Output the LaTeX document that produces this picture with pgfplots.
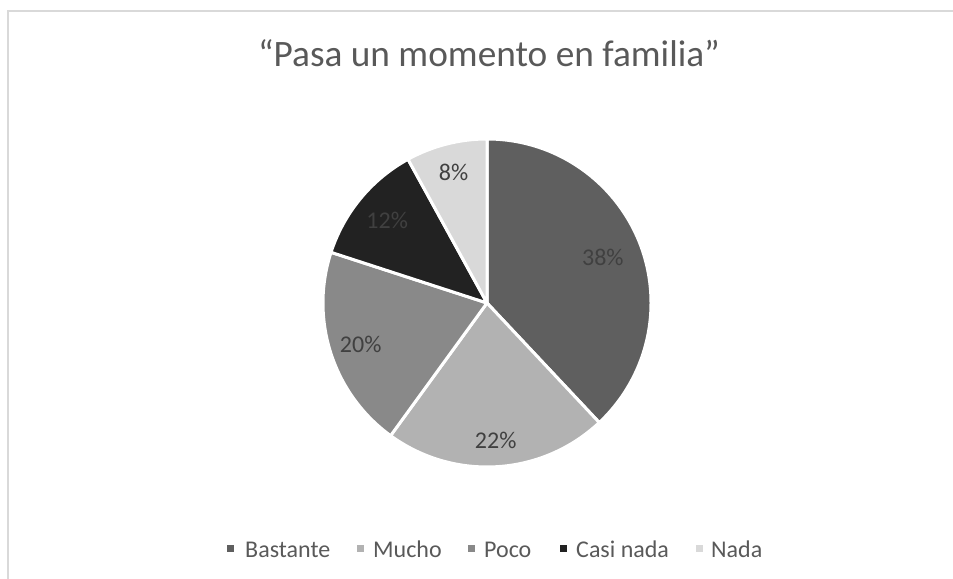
\documentclass[border=0pt]{standalone}
\usepackage{pgfplots}
\pgfplotsset{compat=1.18}
\usepackage{fontspec}
\setmainfont{Carlito}
\definecolor{cA}{HTML}{5F5F5F}
\definecolor{cB}{HTML}{B2B2B2}
\definecolor{cC}{HTML}{898989}
\definecolor{cD}{HTML}{222222}
\definecolor{cE}{HTML}{D9D9D9}
\definecolor{labcol}{HTML}{404040}
\definecolor{titcol}{HTML}{595959}
\definecolor{framecol}{HTML}{D9D9D9}
\begin{document}
\begin{tikzpicture}
\begin{axis}[
  hide axis, scale only axis,
  width=953bp, height=579bp,
  xmin=0, xmax=953, ymin=0, ymax=579,
  clip=false,
]
\coordinate (BL) at (axis cs:0,0);
\coordinate (TR) at (axis cs:953,579);
% frame
\draw[framecol, line width=1.7bp] (axis cs:8.2,0) -- (axis cs:8.2,567.8) -- (axis cs:953,567.8);
% title
\node[anchor=base, text=titcol, font=\fontsize{37.3bp}{44bp}\selectfont] at (axis cs:489,512) {“Pasa un momento en familia”};
% pie: start (cumulative %), value (%), colour, label radius fraction
\pgfplotsextra{
  \foreach \s/\v/\c/\lr in {0/38/cA/0.76, 38/22/cB/0.84, 60/20/cC/0.81, 80/12/cD/0.79, 92/8/cE/0.82} {
    \pgfmathsetmacro\sa{90-3.6*\s}
    \pgfmathsetmacro\ea{90-3.6*(\s+\v)}
    \pgfmathsetmacro\ma{(\sa+\ea)/2}
    \pgfmathsetmacro\lrad{\lr*164}
    \fill[\c, draw=white, line width=3bp, line join=round] (axis cs:487,276) -- ++(\sa:164bp) arc[start angle=\sa, end angle=\ea, radius=164bp] -- cycle;
    \path (axis cs:487,276) ++(\ma:\lrad bp) node[text=labcol, inner sep=0pt, font=\fontsize{24bp}{28bp}\selectfont] {\v\%};
  }
}
% legend
\pgfplotsextra{
  \foreach \sq/\tx/\c/\lab in {227/245/cA/Bastante, 357/373/cB/Mucho, 468/484/cC/Poco, 560/576/cD/Casi nada, 696/711/cE/Nada} {
    \fill[\c] (axis cs:\sq,27) rectangle (axis cs:\sq+7,34);
    \node[anchor=base west, inner sep=0pt, text=titcol, font=\fontsize{24bp}{28bp}\selectfont] at (axis cs:\tx,22) {\lab};
  }
}
\end{axis}
\pgfresetboundingbox
\useasboundingbox (BL) rectangle (TR);
\end{tikzpicture}
\end{document}
